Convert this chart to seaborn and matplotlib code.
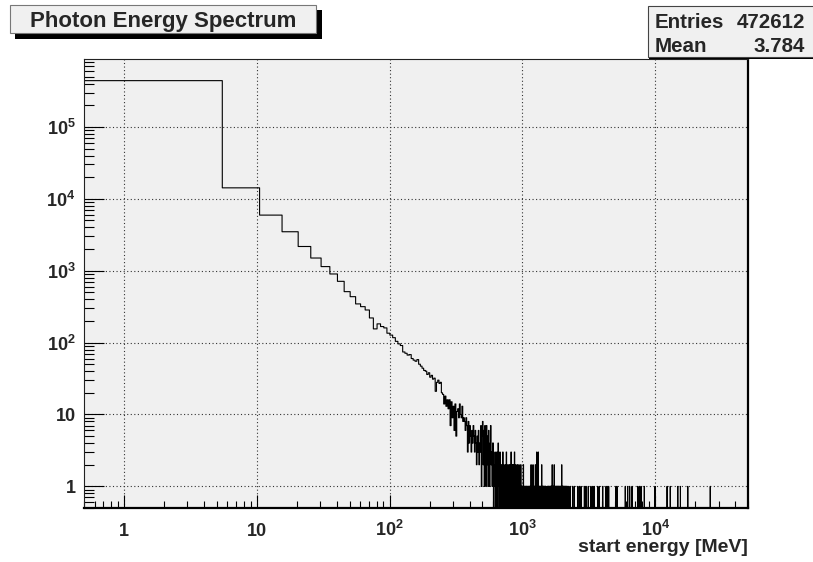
import matplotlib

matplotlib.use("Agg")
import matplotlib.pyplot as plt
import numpy as np
import pandas as pd
import seaborn as sns
from matplotlib.patches import Rectangle
from matplotlib.ticker import FixedFormatter, FixedLocator, LogLocator, NullFormatter

sns.set_theme(style="white")
plt.rcParams["font.family"] = ["Liberation Sans", "DejaVu Sans"]
plt.rcParams["font.weight"] = "bold"
plt.rcParams["mathtext.fontset"] = "custom"
plt.rcParams["mathtext.rm"] = "Liberation Sans:bold"
plt.rcParams["mathtext.bf"] = "Liberation Sans:bold"
plt.rcParams["mathtext.it"] = "Liberation Sans:bold"

TITLE = "Photon Energy Spectrum"
X_LABEL = "start energy [MeV]"
ENTRIES = "472612"
MEAN = "3.784"

# 5 MeV bins from 0.5 to 50000.5 MeV
BIN_WIDTH = 5.0
E_MIN, E_MAX = 0.5, 50000.5

# counts of the first 120 bins (0.5 .. 600.5 MeV)
head_counts = [
    440000, 14200, 5930, 3480, 2170, 1500, 1140, 900, 711, 511,
    435, 345, 316, 284, 220, 155, 182, 167, 160, 135,
    127, 117, 104, 96, 91, 74, 71, 67, 68, 60,
    57, 55, 58, 50, 47, 44, 41, 40, 36, 38,
    33, 35, 31, 32, 21, 28, 30, 27, 28, 20,
    19, 14, 18, 13, 16, 12, 16, 7, 15, 9,
    13, 6, 14, 5, 11, 12, 9, 14, 10, 9,
    13, 8, 9, 8, 6, 9, 7, 3, 8, 4,
    7, 5, 3, 6, 4, 7, 5, 3, 6, 4,
    2, 5, 3, 6, 2, 4, 3, 7, 1, 5,
    8, 2, 6, 1, 7, 3, 1, 7, 2, 5,
    1, 6, 3, 1, 4, 7, 2, 3, 1, 4,
]

# 600.5 .. 2200.5 MeV, one digit per 5 MeV bin (20 bins per 100 MeV)
mid_counts = (
    "40213020310412030102"
    "10302010210301020102"
    "20103010202010301020"
    "01020101201010201010"
    "10120101010110101010"
    "01010101101020101010"
    "20101010102010103010"
    "01030101010101100102"
    "01010010101101001010"
    "10000000110010110100"
    "01010100101001020100"
    "10010102010010100101"
    "01001010010100101001"
    "00101001010001020010"
    "10010010100100010010"
    "01000100100010001000"
)

# single photons above 2.2 GeV [MeV]
tail_energies = [
    2240, 2297, 2393, 2462, 2611, 2687, 2766, 2931, 3015, 3140,
    3289, 3388, 3485, 3693, 3800, 4030, 4266, 4342, 4470, 5075,
    5160, 5960, 6210, 6430, 6700, 7390, 7600, 7830, 8290, 9980,
    12300, 13000, 14800, 15500, 17600, 26000,
]

x_ticks = [1, 10, 100, 1000, 10000]
x_tick_labels = ["1", "10", r"$10^{2}$", r"$10^{3}$", r"$10^{4}$"]
y_ticks = [1, 10, 100, 1e3, 1e4, 1e5]
y_tick_labels = ["1", "10", r"$10^{2}$", r"$10^{3}$", r"$10^{4}$", r"$10^{5}$"]

W, H = 813, 562
PANEL = "#f0f0f0"


def fig_rect(x0, y0, x1, y1, **kw):
    # pixel box (top-left origin) -> figure rectangle
    return Rectangle((x0 / W, 1 - y1 / H), (x1 - x0) / W, (y1 - y0) / H,
                     transform=plt.gcf().transFigure, **kw)


edges = np.arange(E_MIN, E_MAX + BIN_WIDTH / 2, BIN_WIDTH)
counts = np.zeros(len(edges) - 1)
counts[:len(head_counts)] = head_counts
mid = [int(c) for c in mid_counts]
start = len(head_counts)
counts[start:start + len(mid)] = mid
tail, _ = np.histogram(tail_energies, bins=edges)
counts += tail
df = pd.DataFrame({"energy": edges[:-1] + BIN_WIDTH / 2, "n": counts})

fig = plt.figure(figsize=(W / 100, H / 100), dpi=100)
ax = fig.add_axes([84 / W, (H - 508) / H, (748 - 84) / W, 449 / H])
ax.set_facecolor(PANEL)

sns.histplot(data=df, x="energy", weights="n", bins=edges.tolist(), element="step",
             fill=False, color="black", linewidth=0.8, ax=ax)

ax.set_xscale("log")
ax.set_yscale("log")
ax.set_xlim(E_MIN, E_MAX)
ax.set_ylim(0.5, 8.8e5)

ax.xaxis.set_major_locator(FixedLocator(x_ticks))
ax.xaxis.set_major_formatter(FixedFormatter(x_tick_labels))
ax.yaxis.set_major_locator(FixedLocator(y_ticks))
ax.yaxis.set_major_formatter(FixedFormatter(y_tick_labels))
for axis in (ax.xaxis, ax.yaxis):
    axis.set_minor_locator(LogLocator(base=10, subs=np.arange(2, 10) * 1.0, numticks=100))
    axis.set_minor_formatter(NullFormatter())

ax.tick_params(axis="x", which="major", direction="in", length=9.7, width=0.8,
               color="black", labelsize=13, pad=20.3, bottom=True, top=False)
ax.tick_params(axis="x", which="minor", direction="in", length=4.9, width=0.8,
               color="black", bottom=True, top=False)
ax.tick_params(axis="y", which="major", direction="in", length=14.3, width=0.8,
               color="black", labelsize=13, pad=6, left=True, right=False)
ax.tick_params(axis="y", which="minor", direction="in", length=7.2, width=0.8,
               color="black", left=True, right=False)
for lab in ax.get_xticklabels():
    lab.set_verticalalignment("baseline")

ax.grid(True, which="major", color="#333333", linestyle=(0, (1, 2.2)), linewidth=0.8)
ax.grid(False, which="minor")
ax.set_axisbelow(True)

for side in ("left", "top"):
    ax.spines[side].set_color("#222222")
    ax.spines[side].set_linewidth(0.8)
for side in ("bottom", "right"):
    ax.spines[side].set_color("black")
    ax.spines[side].set_linewidth(1.6)

ax.set_ylabel("")
ax.set_xlabel(X_LABEL, fontsize=14, fontweight="bold", ha="right", va="baseline")
ax.xaxis.set_label_coords(1.0, -(552 - 508) / 449)

# title box with drop shadow
fig.add_artist(fig_rect(15, 10, 322, 39, facecolor="black", edgecolor="none"))
fig.add_artist(fig_rect(10, 5, 316, 33, facecolor=PANEL, edgecolor="#777777", linewidth=0.8))
fig.text(163 / W, 1 - 26.5 / H, TITLE, ha="center", va="baseline",
         fontsize=16, fontweight="bold")

# statistics box
fig.add_artist(fig_rect(649, 9, 814, 59, facecolor="black", edgecolor="none"))
fig.add_artist(fig_rect(648, 6, 814, 56.5, facecolor=PANEL, edgecolor="#444444", linewidth=0.8))
for label, value, base in (("Entries", ENTRIES, 28.3), ("Mean", MEAN, 51.5)):
    fig.text(655 / W, 1 - base / H, label, ha="left", va="baseline",
             fontsize=14.8, fontweight="bold")
    fig.text(805 / W, 1 - base / H, value, ha="right", va="baseline",
             fontsize=14.8, fontweight="bold")

fig.savefig("out.png", dpi=100, facecolor="white")
plt.close(fig)
